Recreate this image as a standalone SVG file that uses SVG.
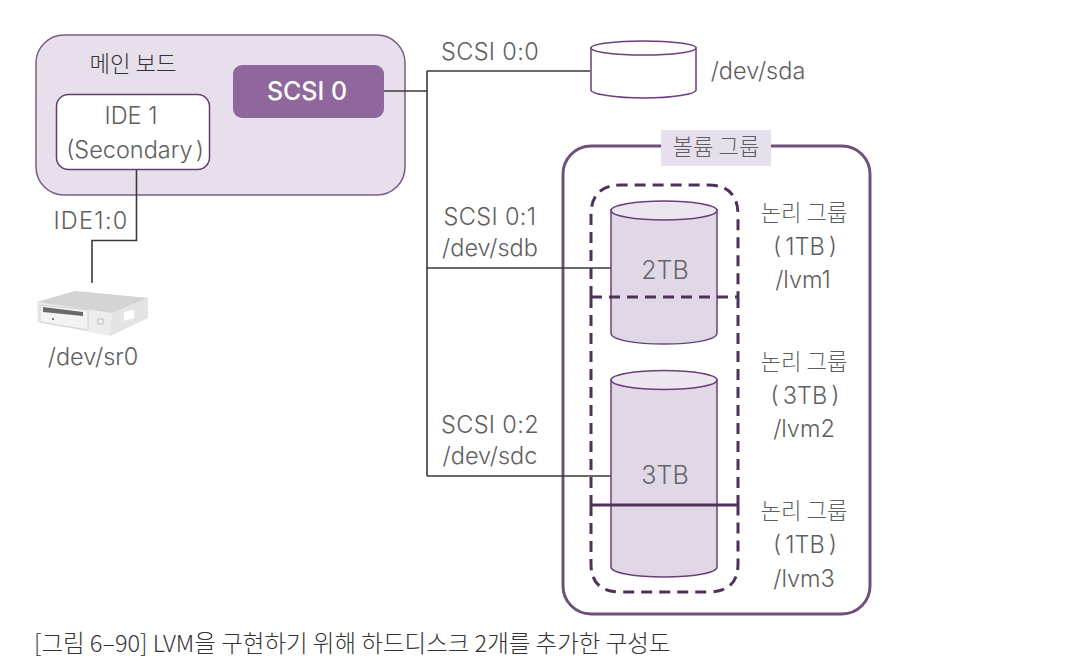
<svg xmlns="http://www.w3.org/2000/svg" width="1088" height="668" viewBox="0 0 1088 668">
<style>
text{font-family:"Inter","Liberation Sans","Noto Sans CJK KR",sans-serif;font-size:23.5px;fill:#5e5e5e;font-weight:300;text-anchor:middle}
.k{font-family:"Noto Sans CJK KR",sans-serif;font-size:22.3px;font-weight:300}
.s{letter-spacing:.35px}
.d{font-size:25px;fill:#666}
.cap{fill:#333;font-size:23.4px;text-anchor:start}
.wire{fill:none;stroke:#3a3a3a;stroke-width:1.6}
.cyl{fill:#e0d8e6;stroke:#6b3f7c;stroke-width:1.5}
.top{fill:#ece6f0;stroke:#6b3f7c;stroke-width:1.5}
</style>
<rect width="1088" height="668" fill="#fff"/>
<g id="board"><rect x="36" y="35" width="369" height="160" rx="28" fill="#e8dfec" stroke="#7b5c85" stroke-width="1.5"/>
<text class="k" x="133" y="72" style="fill:#333">메인 보드</text></g>
<g id="ide1"><rect x="56.500" y="94.500" width="153" height="75" rx="12" fill="#fff" stroke="#5f3f6c" stroke-width="1.5"/>
<text x="131" y="124">IDE 1</text><text x="135" y="158">(Secondary<tspan dx="3">)</tspan></text></g>
<g id="scsi0"><rect x="233" y="65" width="151" height="53" rx="9" fill="#8f679c"/>
<text x="307" y="100" style="fill:#fff;font-weight:500;font-size:25px">SCSI 0</text></g>
<g id="volume-group"><rect x="563" y="146" width="307" height="468" rx="28" fill="#fff" stroke="#6f5079" stroke-width="3"/>
<rect x="661" y="130" width="110" height="36" fill="#e8dfec"/>
<text class="k" x="716" y="155">볼륨 그룹</text></g>
<g id="connectors">
<path class="wire" d="M384 91H427M427 71H590M427 71V476M427 268H611M427 476H611"/>
<path class="wire" d="M136.500 170V240.500H92V283"/>
</g>
<g id="sda"><path d="M591 48V90C591 94 615 98 644 98S696 94 696 90V48Z" fill="#fff" stroke="#6b3f7c" stroke-width="1.500"/>
<ellipse cx="643.500" cy="48" rx="52.500" ry="7" fill="#fff" stroke="#6b3f7c" stroke-width="1.500"/></g>
<text x="758" y="79">/dev/sda</text>
<text x="490" y="60" class="s">SCSI 0:0</text>
<text x="490" y="225" class="s">SCSI 0:1</text><text x="490" y="256">/dev/sdb</text>
<text x="490" y="433" class="s">SCSI 0:2</text><text x="490" y="464">/dev/sdc</text>
<text x="91" y="229" style="letter-spacing:1.3px">IDE1:0</text>
<g id="sr0">
<path d="M37 302L75 291L148 298V318L110 336L37 322Z" fill="#ececec"/>
<path d="M37 302L75 291L148 298L112 313Z" fill="#d4d4d4"/>
<path d="M112 313L148 298V318L110 336Z" fill="#e4e4e4"/>
<path d="M40 305L88 310V330L40 322Z" fill="#f3f3f3" stroke="#c4c4c4" stroke-width=".7"/>
<path d="M43 307L83 312V316L43 312Z" fill="#6a6a6a"/>
<circle cx="53" cy="319" r="1" fill="#555"/>
<path d="M124 312L134 310V318L124 321Z" fill="#fff"/>
<rect x="98" y="319" width="5" height="5" fill="#f2f2f2" stroke="#999" stroke-width=".6"/>
<text x="93" y="365">/dev/sr0</text></g>
<g id="disk-2tb"><path d="M611 210V333C611 340 635 344 664 344S717 340 717 333V210Z" class="cyl"/>
<ellipse cx="664" cy="210.500" rx="53" ry="9.500" class="top"/><text class="d" x="665" y="279">2TB</text></g>
<g id="disk-3tb"><path d="M611 380V567C611 573 635 577 664 577S717 573 717 567V380Z" class="cyl"/>
<ellipse cx="664" cy="380" rx="53" ry="9.500" class="top"/><text class="d" x="665" y="484">3TB</text></g>
<g id="logical-groups" fill="none" stroke="#4f3059" stroke-width="3">
<path d="M591 297V215Q591 185 621 185H708Q738 185 738 215V297" stroke-dasharray="11 7"/>
<path d="M591 297H738" stroke-dasharray="11 7"/>
<path d="M591 297V505M738 297V505" stroke-dasharray="11 7"/>
<path d="M591 505H738"/>
<path d="M591 505V564Q591 592 621 592H708Q738 592 738 564V505" stroke-dasharray="11 7"/>
</g>
<g id="labels">
<text class="k" x="804" y="221">논리 그룹</text><text x="805" y="255">(<tspan dx="4">1TB</tspan><tspan dx="4">)</tspan></text><text x="803" y="288">/lvm1</text>
<text class="k" x="804" y="370">논리 그룹</text><text x="805" y="404">(<tspan dx="4">3TB</tspan><tspan dx="4">)</tspan></text><text x="804" y="437">/lvm2</text>
<text class="k" x="804" y="519">논리 그룹</text><text x="805" y="553">(<tspan dx="4">1TB</tspan><tspan dx="4">)</tspan></text><text x="804" y="587">/lvm3</text>
</g>
<text class="cap k" x="34" y="652" style="font-size:23.5px">[그림 6–90] LVM을 구현하기 위해 하드디스크 2개를 추가한 구성도</text>
</svg>
